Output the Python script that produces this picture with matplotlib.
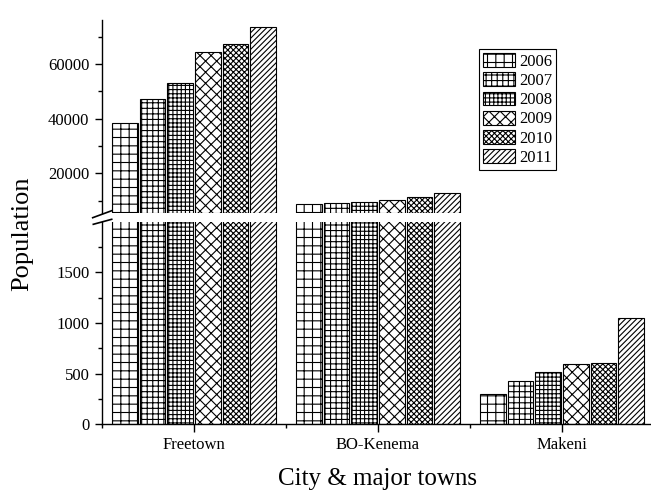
import numpy as np
import matplotlib.pyplot as plt
from matplotlib.lines import Line2D
from matplotlib.ticker import FixedLocator

plt.rcParams['font.family'] = ['Liberation Serif', 'DejaVu Serif']
plt.rcParams['hatch.linewidth'] = 0.8

# data
cities = ['Freetown', 'BO-Kenema', 'Makeni']
years = ['2006', '2007', '2008', '2009', '2010', '2011']
pop_2006 = [38300, 8670, 302]
pop_2007 = [47190, 9030, 428]
pop_2008 = [52940, 9620, 517]
pop_2009 = [64280, 10240, 596]
pop_2010 = [67320, 11450, 603]
pop_2011 = [73430, 12910, 1045]
series = [pop_2006, pop_2007, pop_2008, pop_2009, pop_2010, pop_2011]

hatches = ['++', '+++', '++++', 'xxx', 'xxxxxx', '//////']

W, H = 651, 496
fig = plt.figure(figsize=(W / 100, H / 100), dpi=100)

def fx(px):
    return px / W

def fy(py):
    return 1 - py / H

left = fx(102)
width = 1 - left
ax_top = fig.add_axes([left, fy(212.7), width, (212.7 - 20) / H])
ax_bot = fig.add_axes([left, fy(424.3), width, (424.3 - 221.7) / H])

top_lo, top_hi = 5590, 76100
bot_lo, bot_hi = 0, 2000

x = np.arange(1, len(cities) + 1)
bw = 0.14
step = 0.15
for i, (yr, vals, h) in enumerate(zip(years, series, hatches)):
    pos = x + (i - 2.5) * step
    vals = np.array(vals, dtype=float)
    ax_bot.bar(pos, vals, bw, color='white', edgecolor='black', hatch=h, lw=0.8)
    # upper piece starts at the break so its bottom edge is visible
    big = vals > top_lo
    ax_top.bar(pos[big], vals[big] - top_lo, bw, bottom=top_lo, color='white',
               edgecolor='black', hatch=h, lw=0.8, label=yr)

xlim = (0.5, 0.5 + (W - 102) / 184)
for ax in (ax_top, ax_bot):
    ax.set_xlim(*xlim)
    ax.spines['top'].set_visible(False)
    ax.spines['right'].set_visible(False)
    ax.spines['left'].set_linewidth(1.0)
    ax.spines['bottom'].set_linewidth(1.0)
    ax.tick_params(axis='y', which='major', length=5, width=1.0, labelsize=12, pad=4)
    ax.tick_params(axis='y', which='minor', length=3, width=1.0)

ax_top.spines['bottom'].set_visible(False)
ax_top.set_xticks([])
ax_top.set_ylim(top_lo, top_hi)
ax_top.yaxis.set_major_locator(FixedLocator([20000, 40000, 60000]))
ax_top.yaxis.set_minor_locator(FixedLocator([10000, 30000, 50000, 70000]))

ax_bot.set_ylim(bot_lo, bot_hi)
ax_bot.yaxis.set_major_locator(FixedLocator([0, 500, 1000, 1500]))
ax_bot.yaxis.set_minor_locator(FixedLocator([250, 750, 1250, 1750]))
ax_bot.set_xticks(x)
ax_bot.set_xticklabels(cities)
ax_bot.xaxis.set_minor_locator(FixedLocator([0.5, 1.5, 2.5, 3.5]))
ax_bot.tick_params(axis='x', which='major', length=6, width=1.0, labelsize=12, pad=3.5)
ax_bot.tick_params(axis='x', which='minor', length=3, width=1.0)

# axis break marks
for (x0, y0, x1, y1) in [(92.7, 217.7, 111.7, 210.7), (93.3, 224.3, 111.7, 219.3)]:
    fig.add_artist(Line2D([fx(x0), fx(x1)], [fy(y0), fy(y1)], transform=fig.transFigure,
                          color='black', lw=1.2))

leg = ax_top.legend(loc='upper left', bbox_to_anchor=(fx(479), fy(49)),
                    bbox_transform=fig.transFigure, fontsize=12, fancybox=False,
                    framealpha=1, edgecolor='black', handlelength=1.9, handleheight=0.9,
                    handletextpad=0.25, labelspacing=0.15, borderpad=0.25,
                    borderaxespad=0)
leg.get_frame().set_linewidth(0.8)

fig.text(fx(22), fy(234), 'Population', rotation=90, ha='center', va='center', fontsize=19)
fig.text(fx(377), fy(479), 'City & major towns', ha='center', va='center', fontsize=18)

fig.savefig('out.png', dpi=100)
